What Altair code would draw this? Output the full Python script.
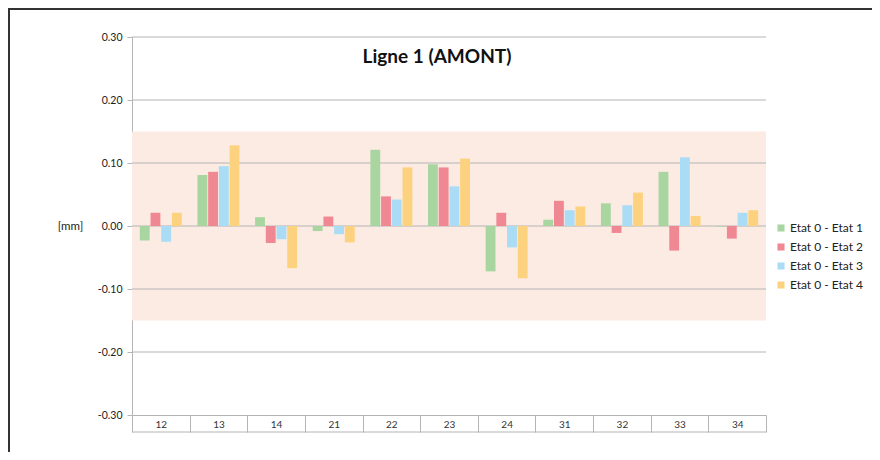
import altair as alt
import pandas as pd

categories = ["12", "13", "14", "21", "22", "23", "24", "31", "32", "33", "34"]
series_names = ["Etat 0 - Etat 1", "Etat 0 - Etat 2", "Etat 0 - Etat 3", "Etat 0 - Etat 4"]
etat1 = [-0.023, 0.081, 0.014, -0.008, 0.121, 0.098, -0.072, 0.010, 0.036, 0.086, -0.001]
etat2 = [0.021, 0.086, -0.027, 0.015, 0.047, 0.093, 0.021, 0.040, -0.011, -0.039, -0.020]
etat3 = [-0.025, 0.095, -0.021, -0.013, 0.042, 0.063, -0.034, 0.025, 0.033, 0.109, 0.021]
etat4 = [0.021, 0.128, -0.067, -0.026, 0.093, 0.107, -0.083, 0.031, 0.053, 0.016, 0.025]
colors = ["#a9d6a0", "#f08893", "#aadcf5", "#fdd27f"]
tolerance = [0.15, -0.15]
grid_values = [0.3, 0.2, 0.1, 0.0, -0.1, -0.2]
tick_values = [0.3, 0.25, 0.2, 0.15, 0.1, 0.05, 0.0, -0.05, -0.1, -0.15, -0.2, -0.25, -0.3]
title_text = "Ligne 1 (AMONT)"
unit_text = "[mm]"

W, H = 634, 378

rows = []
for name, vals in zip(series_names, [etat1, etat2, etat3, etat4]):
    for c, v in zip(categories, vals):
        rows.append({"cat": c, "series": name, "value": v})
df = pd.DataFrame(rows)

yscale = alt.Scale(domain=[-0.3, 0.3], nice=False)

band = alt.Chart(pd.DataFrame({"y1": [tolerance[0]], "y2": [tolerance[1]]})).mark_rect(
    color="#fcebe3"
).encode(
    x=alt.value(0), x2=alt.value(W),
    y=alt.Y("y1:Q", scale=yscale), y2="y2:Q",
)

grid = alt.Chart(pd.DataFrame({"g": grid_values})).mark_rule(
    color="#b4b4b4", strokeWidth=1
).encode(
    x=alt.value(0), x2=alt.value(W),
    y=alt.Y("g:Q", scale=yscale),
)

bars = alt.Chart(df).mark_bar().encode(
    x=alt.X("cat:N", sort=categories, title=None,
            scale=alt.Scale(paddingInner=0, paddingOuter=0),
            axis=alt.Axis(labelAngle=0, tickBand="extent", tickSize=17,
                          tickColor="#b4b4b4", domainColor="#b4b4b4",
                          labelPadding=-13, labelFontSize=10, labelColor="#333333")),
    xOffset=alt.XOffset("series:N", sort=series_names,
                        scale=alt.Scale(paddingInner=0.08, paddingOuter=0.73)),
    y=alt.Y("value:Q", scale=yscale, title=unit_text,
            axis=alt.Axis(values=tick_values, grid=False, tickSize=5,
                          tickColor="#b4b4b4", domainColor="#b4b4b4",
                          labelExpr="abs(round(datum.value*100)) % 10 == 0 ? replace(format(datum.value, '.2f'), '\u2212', '-') : ''",
                          labelFontSize=10.5, labelColor="#222222", labelPadding=5,
                          titleAngle=0, titleX=-62, titleY=189, titleAlign="center",
                          titleBaseline="middle", titleFontSize=11.5, titleFontWeight="normal",
                          titleColor="#222222")),
    color=alt.Color("series:N", sort=series_names,
                    scale=alt.Scale(domain=series_names, range=colors),
                    legend=alt.Legend(title=None, orient="none", legendX=643, legendY=185,
                                      symbolType="square", symbolSize=50, labelFontSize=12,
                                      labelColor="#222222", rowPadding=7, labelOffset=3)),
)

box_bottom = alt.Chart(pd.DataFrame({"t": [0]})).mark_rule(color="#b4b4b4").encode(
    x=alt.value(0), x2=alt.value(W), y=alt.value(H + 17)
)

title = alt.Chart(pd.DataFrame({"t": [title_text]})).mark_text(
    fontSize=19, fontWeight="bold", color="#111111", align="center", baseline="middle"
).encode(x=alt.value(305), y=alt.value(20), text="t:N")

border_top = alt.Chart(pd.DataFrame({"t": [0]})).mark_rule(color="#333333", strokeWidth=2).encode(
    x=alt.value(-124), x2=alt.value(W + 106), y=alt.value(-28)
)
border_left = alt.Chart(pd.DataFrame({"t": [0]})).mark_rule(color="#333333", strokeWidth=2).encode(
    x=alt.value(-123), y=alt.value(-29), y2=alt.value(H + 37)
)

chart = alt.layer(band, grid, bars, box_bottom, title, border_top, border_left).properties(
    width=W, height=H,
    autosize=alt.AutoSizeParams(type="none"),
    padding={"left": 124, "top": 29, "right": 106, "bottom": 37},
).configure(font="Lato").configure_view(stroke=None)

chart.save("out.html", embed_options={"renderer": "svg", "actions": False})
